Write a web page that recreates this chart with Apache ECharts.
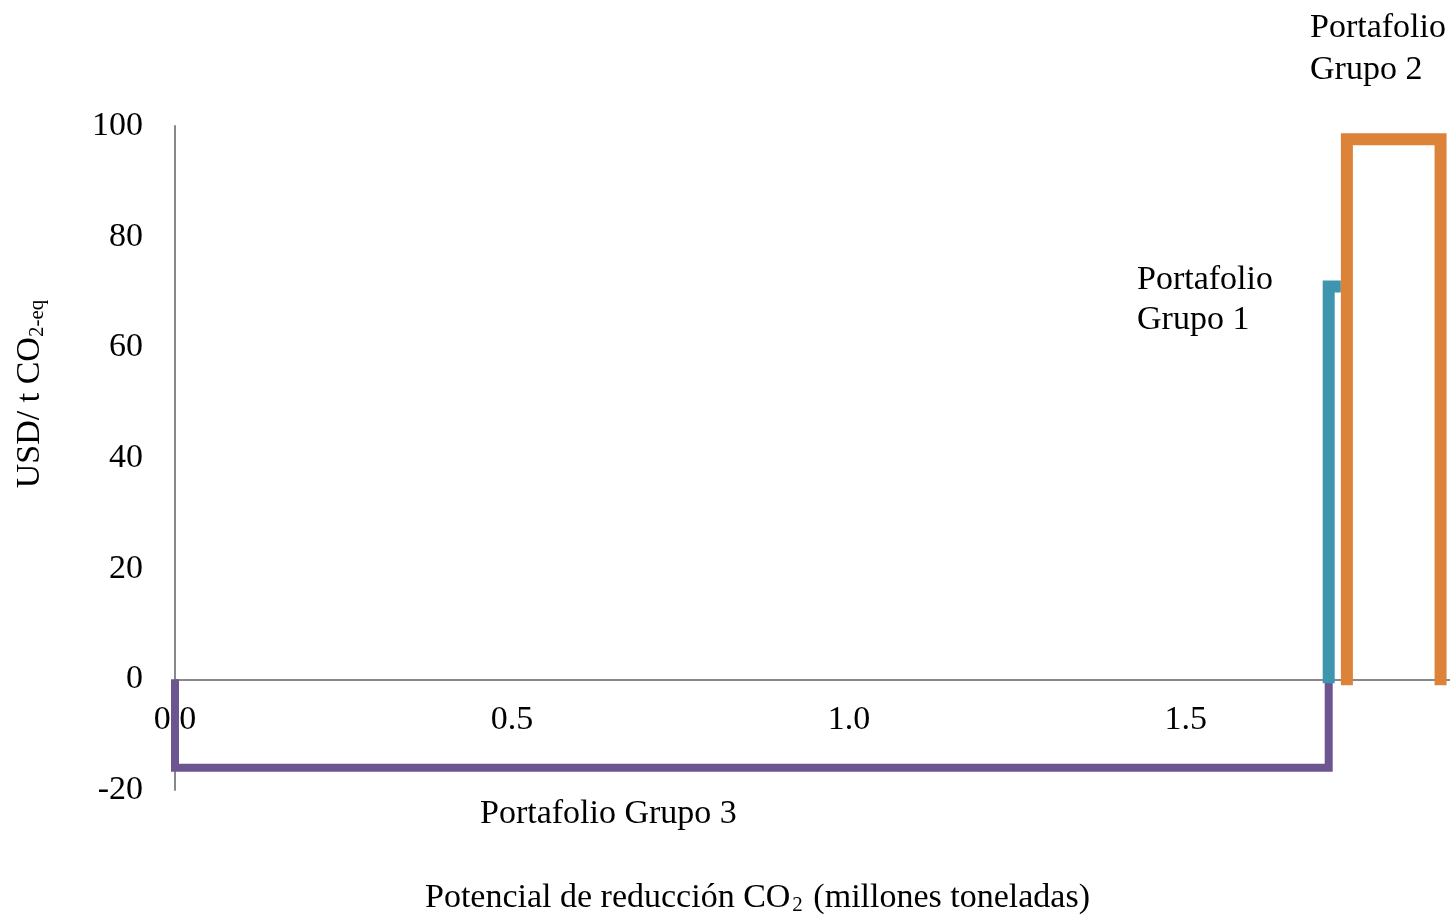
<!DOCTYPE html>
<html><head><meta charset="utf-8">
<script src="https://cdn.jsdelivr.net/npm/echarts@6/dist/echarts.min.js"></script>
<style>html,body{margin:0;padding:0;background:#fff}#c{width:1450px;height:916px}</style>
</head><body><div id="c"></div>
<script>
var grupo3 = [[0, 0], [0, -16], [1.712, -16], [1.712, 0]];
var grupo1 = [[1.712, -0.7], [1.712, 71], [1.73, 71]];
var grupo2 = [[1.739, 0], [1.739, 97.6], [1.878, 97.6], [1.878, 0]];
var yTicks = [-20, 0, 20, 40, 60, 80, 100];
var xTicks = [0, 0.5, 1.0, 1.5];
var FONT = '"Liberation Serif", "DejaVu Serif", serif';
var FS = 34;
var chart = echarts.init(document.getElementById('c'));
function ser(name, data, color, w, cap) {
  return {name: name, type: 'line', data: data, showSymbol: false, symbol: 'none',
    lineStyle: {color: color, width: w, cap: cap, join: 'miter'}, animation: false, z: 3};
}
chart.setOption({
  animation: false,
  grid: {left: 175, right: 0, top: 126, bottom: 126, containLabel: false, outerBoundsMode: 'none'},
  xAxis: {type: 'value', min: 0, max: 1.892, interval: 0.5, offset: -110,
    axisLine: {onZero: false, lineStyle: {color: '#888', width: 2}},
    axisTick: {show: false}, splitLine: {show: false},
    axisLabel: {showMaxLabel: false, margin: 23, color: '#000', fontFamily: FONT, fontSize: FS,
      formatter: function (v) { return xTicks.indexOf(Math.round(v * 10) / 10) >= 0 ? v.toFixed(1) : ''; }},
    name: '{a|Potencial de reducción CO}{s|2}{a| (millones toneladas)}', nameLocation: 'middle', nameGap: 201,
    nameTextStyle: {padding: [0, 110, 0, 0], rich: {a: {fontFamily: FONT, fontSize: FS, color: '#000'}, s: {fontFamily: FONT, fontSize: 21, color: '#000', padding: [0, 2, -14, 2]}}}
  },
  yAxis: {type: 'value', min: -20, max: 100, interval: 20,
    axisLine: {show: true, onZero: false, lineStyle: {color: '#888', width: 2}},
    axisTick: {show: false}, splitLine: {show: false},
    axisLabel: {margin: 32, color: '#000', fontFamily: FONT, fontSize: FS},
    name: '{a|USD/ t CO}{s|2-eq}', nameLocation: 'middle', nameGap: 128, nameRotate: 90,
    nameTextStyle: {padding: [0, 0, 0, 128], rich: {a: {fontFamily: FONT, fontSize: FS, color: '#000'}, s: {fontFamily: FONT, fontSize: 21, color: '#000', padding: [0, 0, -14, 0]}}}
  },
  series: [
    ser('Portafolio Grupo 3', grupo3, '#6B5690', 8, 'butt'),
    ser('Portafolio Grupo 1', grupo1, '#3D96AE', 12, 'butt'),
    ser('Portafolio Grupo 2', grupo2, '#DD8339', 12, 'square')
  ],
  graphic: [
    {type: 'text', left: 1310, top: 7, style: {text: 'Portafolio\nGrupo 2', font: FS + 'px ' + FONT, fill: '#000', lineHeight: 42}},
    {type: 'text', left: 1137, top: 260, style: {text: 'Portafolio\nGrupo 1', font: FS + 'px ' + FONT, fill: '#000', lineHeight: 40}},
    {type: 'text', left: 480, top: 797, style: {text: 'Portafolio Grupo 3', font: FS + 'px ' + FONT, fill: '#000'}}
  ]
});
</script></body></html>
